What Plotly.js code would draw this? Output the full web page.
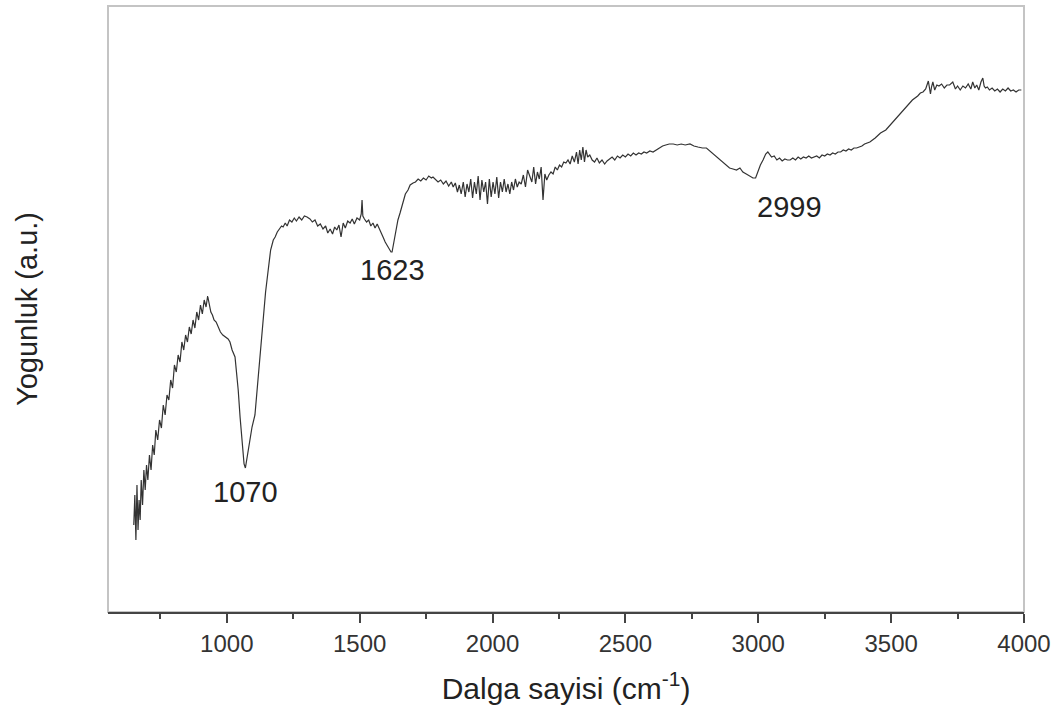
<!DOCTYPE html>
<html>
<head>
<meta charset="utf-8">
<script src="https://cdn.plot.ly/plotly-3.0.1.min.js"></script>
<style>html,body{margin:0;padding:0;background:#fff;}#chart{width:1064px;height:720px;}</style>
</head>
<body>
<div id="chart"></div>
<script>
// Wavenumber (cm-1) and intensity (a.u.)
const wavenumber = [
650,654,658,662,666,670,674,678,683,688,693,698,703,709,715,721,727,733,740,747,754,761,768,775,782,789,796,803,810,817,824,831,838,845,852,859,866,873,880,887,894,901,908,915,922,928,934,940,946,952,960,968,976,985,995,1005,1012,1020,1031,1038,1043,1050,1058,1065,1070,1076,1085,1095,1106,1115,1125,1137,1146,1155,1165,1175,1182,1190,1198,1206,1212,1220,1227,1236,1245,1254,1262,1272,1282,1292,1302,1313,1322,1332,1342,1352,1362,1372,1380,1389,1398,1406,1414,1422,1430,1438,1446,1455,1464,1472,1480,1490,1500,1506,1509,1512,1518,1526,1534,1542,1550,1558,1566,1575,1582,1588,1596,1604,1612,1618,1622,1628,1636,1644,1652,1662,1672,1682,1690,1701,1710,1720,1730,1740,1750,1760,1770,1776,1785,1795,1805,1815,1825,1835,1845,1852,1860,1868,1875,1882,1890,1897,1904,1911,1918,1925,1932,1939,1946,1953,1960,1967,1974,1981,1988,1995,2002,2009,2016,2023,2030,2037,2044,2051,2058,2065,2072,2079,2086,2093,2100,2108,2116,2124,2132,2140,2148,2155,2162,2169,2176,2183,2190,2197,2204,2212,2220,2228,2236,2244,2252,2260,2268,2276,2284,2292,2300,2308,2316,2322,2328,2334,2340,2346,2352,2358,2366,2375,2384,2393,2402,2412,2422,2431,2440,2450,2460,2470,2480,2490,2500,2510,2520,2530,2540,2550,2560,2570,2580,2592,2604,2616,2628,2640,2652,2665,2680,2695,2710,2725,2743,2758,2773,2790,2805,2818,2830,2842,2855,2867,2880,2892,2905,2918,2931,2942,2955,2967,2980,2990,2998,3008,3018,3028,3036,3043,3050,3060,3070,3080,3090,3100,3110,3120,3130,3140,3150,3160,3170,3180,3190,3200,3210,3220,3230,3240,3250,3260,3270,3280,3290,3300,3310,3320,3330,3340,3350,3360,3370,3380,3390,3400,3420,3440,3460,3480,3500,3520,3540,3560,3580,3600,3610,3620,3630,3640,3648,3652,3657,3664,3672,3680,3690,3700,3710,3720,3732,3742,3750,3760,3770,3780,3790,3800,3807,3815,3822,3830,3838,3845,3850,3855,3862,3870,3880,3890,3900,3910,3920,3930,3940,3950,3960,3970,3980,3990,4000
];
const intensity = [
87,117,72,127,82,112,92,132,107,142,122,147,132,157,142,167,157,182,172,192,184,207,197,217,212,232,224,247,240,257,250,270,262,277,270,285,278,292,284,300,292,307,298,312,305,316,308,300,297,292,290,284,280,277,275,273,270,262,255,238,222,195,170,148,144,155,170,185,197,225,260,295,320,340,362,372,375,380,383,386,385,389,386,392,390,394,391,395,392,396,395,393,390,392,386,388,383,386,379,383,378,385,382,387,375,389,384,391,389,393,388,394,392,398,412,396,393,390,392,386,389,384,388,382,378,375,370,366,362,360,360,368,382,392,399,410,418,422,427,429,430,433,431,434,432,436,434,435,433,430,432,428,431,426,430,425,429,420,427,418,430,415,428,420,433,414,430,418,436,412,432,420,430,408,433,415,430,418,435,414,430,420,433,420,428,418,430,422,433,425,430,428,437,425,442,436,430,445,428,440,433,445,412,438,432,437,440,438,445,442,447,445,450,449,452,448,456,450,460,448,462,452,465,450,462,455,457,452,450,454,449,452,448,451,453,455,452,456,454,457,455,458,456,459,457,459,458,460,459,461,460,462,464,466,467,468,468,467,468,467,468,466,465,464,464,461,458,455,452,449,446,444,443,442,444,440,438,436,434,434,440,447,452,458,460,457,455,456,452,454,451,453,452,452,454,452,455,453,455,454,456,454,455,456,454,457,456,458,457,459,458,460,460,462,461,463,462,464,464,465,466,468,470,474,479,482,488,494,499,505,512,516,519,520,523,531,518,525,530,522,527,526,528,524,527,527,530,523,526,522,526,524,528,523,530,524,527,522,530,534,526,524,525,522,524,521,523,520,523,521,524,521,522,520,522,522
];
const peakLabels = ["1070", "1623", "2999"];
const peakX = [1070, 1623, 3119];
const peakY = [120, 342, 405];

const trace = {
  x: wavenumber, y: intensity, type: 'scatter', mode: 'lines',
  line: {color: '#333333', width: 1.2}, hoverinfo: 'skip'
};

const annotations = peakLabels.map((t, i) => ({
  x: peakX[i], y: peakY[i], xref: 'x', yref: 'y', text: t, showarrow: false,
  font: {family: 'Liberation Sans, Arial, sans-serif', size: 29, color: '#222'},
  xanchor: 'center', yanchor: 'middle'
}));

const layout = {
  width: 1064, height: 720,
  margin: {l: 108, r: 40, t: 6, b: 108},
  paper_bgcolor: '#fff', plot_bgcolor: '#fff',
  showlegend: false,
  font: {family: 'Liberation Sans, Arial, sans-serif', color: '#333'},
  xaxis: {
    range: [553, 4000], showgrid: false, zeroline: false,
    showline: true, linecolor: '#444', linewidth: 2,
    ticks: 'outside', ticklen: 9, tickwidth: 2, tickcolor: '#444',
    dtick: 500, tick0: 0,
    minor: {ticks: 'outside', ticklen: 5, tickwidth: 2, tickcolor: '#444', dtick: 250, tick0: 0},
    tickfont: {size: 24, color: '#333'},
    title: {text: 'Dalga sayisi (cm<sup>-1</sup>)', font: {size: 30, color: '#222'}, standoff: 22}
  },
  yaxis: {
    range: [0, 606], showgrid: false, zeroline: false, showline: false,
    showticklabels: false, ticks: '',
    title: {text: 'Yogunluk (a.u.)', font: {size: 29, color: '#222'}, standoff: 60}
  },
  shapes: [{
    type: 'rect', xref: 'paper', yref: 'paper', x0: 0, x1: 1, y0: 0, y1: 1,
    line: {color: '#c4c4c4', width: 2}, layer: 'below'
  }],
  annotations: annotations
};

Plotly.newPlot('chart', [trace], layout, {staticPlot: true, displayModeBar: false});
</script>
</body>
</html>
